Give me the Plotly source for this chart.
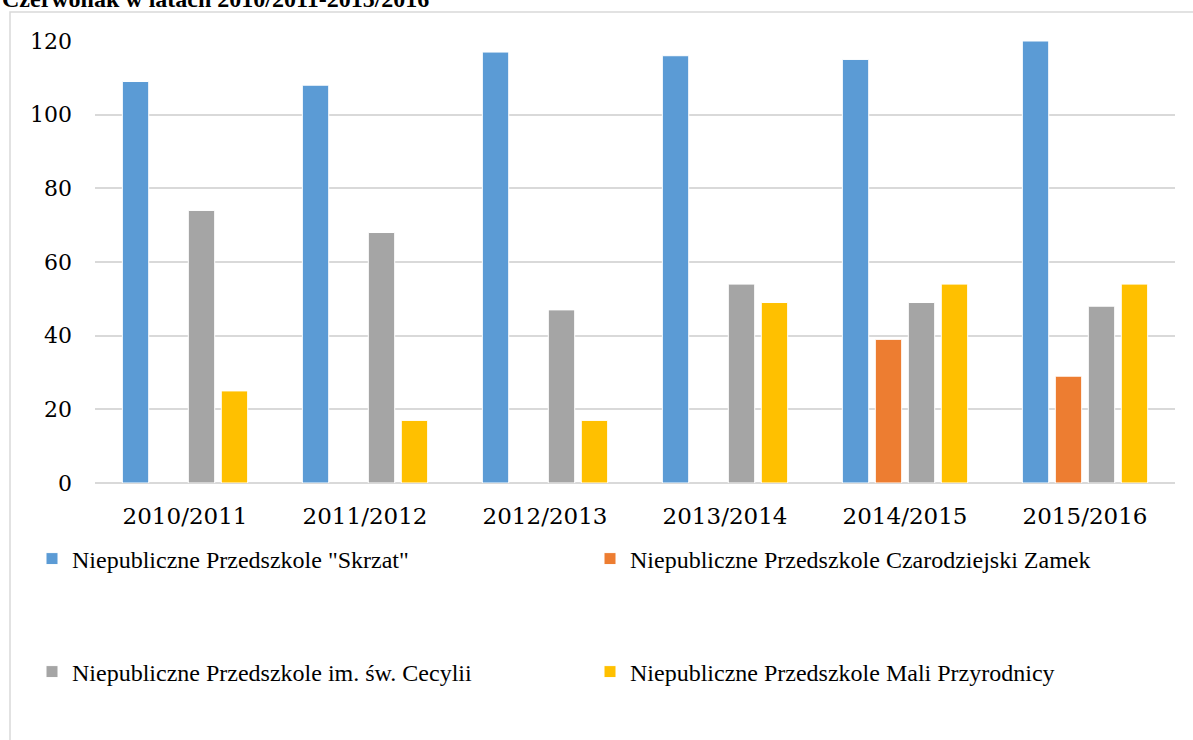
import plotly.graph_objects as go

years = ['2010/2011', '2011/2012', '2012/2013', '2013/2014', '2014/2015', '2015/2016']

skrzat = [109, 108, 117, 116, 115, 120]
zamek = [None, None, None, None, 39, 29]
cecylii = [74, 68, 47, 54, 49, 48]
mali = [25, 17, 17, 49, 54, 54]

series = [
    ('Niepubliczne Przedszkole "Skrzat"', skrzat, '#5B9BD5', 'legend'),
    ('Niepubliczne Przedszkole Czarodziejski Zamek', zamek, '#ED7D31', 'legend'),
    ('Niepubliczne Przedszkole im. św. Cecylii', cecylii, '#A5A5A5', 'legend2'),
    ('Niepubliczne Przedszkole Mali Przyrodnicy', mali, '#FFC000', 'legend2'),
]

W, H = 1193, 740
L, R, T, B = 95, 18, 41, 257
pw, ph = W - L - R, H - T - B


def px_x(p):
    return (p - L) / pw


def px_y(p):
    return (H - B - p) / ph


fig = go.Figure()

for name, vals, color, leg in series:
    fig.add_trace(go.Bar(
        x=years,
        y=vals,
        name=name,
        marker=dict(color=color, line=dict(color='white', width=1)),
        legend=leg,
    ))

legend_font = dict(family='Liberation Serif', size=24, color='black')
legend_common = dict(
    orientation='h',
    xanchor='left',
    yanchor='middle',
    font=legend_font,
    entrywidth=525,
    indentation=-12,
    bgcolor='rgba(0,0,0,0)',
)

fig.update_layout(
    width=W,
    height=H,
    margin=dict(l=L, r=R, t=T, b=B),
    paper_bgcolor='white',
    plot_bgcolor='white',
    barmode='group',
    bargap=0.267,
    bargroupgap=0.2,
    legend=dict(x=px_x(44), y=px_y(559), **legend_common),
    legend2=dict(x=px_x(44), y=px_y(672), **legend_common),
    xaxis=dict(
        tickfont=dict(family='DejaVu Serif', size=23, color='black'),
        showgrid=False,
        showline=False,
        ticks='',
        ticklabelstandoff=17,
    ),
    yaxis=dict(
        range=[0, 120],
        dtick=20,
        tickfont=dict(family='DejaVu Serif', size=22, color='black'),
        showgrid=True,
        gridcolor='#D9D9D9',
        gridwidth=1.5,
        zeroline=True,
        zerolinecolor='#D9D9D9',
        zerolinewidth=1.5,
        showline=False,
        ticks='',
        ticklabelstandoff=22,
    ),
    shapes=[
        dict(type='rect', xref='paper', yref='paper',
             x0=px_x(10), x1=px_x(1250), y0=px_y(800), y1=px_y(12),
             line=dict(color='#D9D9D9', width=1.5), fillcolor='rgba(0,0,0,0)',
             layer='below'),
    ],
    annotations=[
        dict(text='<b>Czerwonak w latach 2010/2011-2015/2016</b>',
             xref='paper', yref='paper', x=px_x(0), y=px_y(14),
             xanchor='left', yanchor='bottom', showarrow=False,
             font=dict(family='Liberation Serif', size=24, color='black')),
    ],
)

fig.write_html("out.html", config={'displayModeBar': False},
               post_script="document.body.style.margin='0';")
